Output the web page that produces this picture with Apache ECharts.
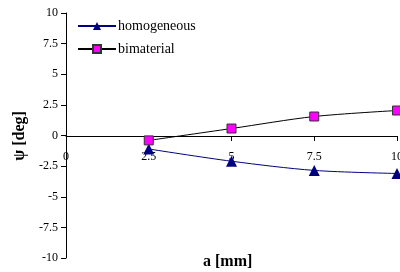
<!DOCTYPE html>
<html>
<head>
<meta charset="utf-8">
<script src="https://cdn.jsdelivr.net/npm/echarts@6/dist/echarts.min.js"></script>
<style>
  html, body { margin: 0; padding: 0; background: #fff; }
  #chart { width: 400px; height: 272px; }
</style>
</head>
<body>
<div id="chart"></div>
<script>
// 数据
const aValues = [2.5, 5, 7.5, 10];
const homogeneous = [-1.1, -2.1, -2.85, -3.1];
const bimaterial = [-0.4, 0.57, 1.55, 2.04];
const seriesNames = ['homogeneous', 'bimaterial'];

(function () {
    let myChart = echarts.init(document.getElementById('chart'));
    const font = 'Liberation Serif, Times New Roman, serif';
    let option = {
        animation: false,
        grid: {
            left: 66,
            right: 3,
            top: 13,
            bottom: 14,
            containLabel: false,
            outerBoundsMode: 'none'
        },
        legend: {
            orient: 'vertical',
            left: 77,
            top: 19,
            padding: 0,
            itemWidth: 38,
            itemHeight: 10,
            itemGap: 9,
            data: seriesNames,
            textStyle: { color: '#000', fontFamily: font, fontSize: 14, padding: [0, 0, 0, -3] }
        },
        xAxis: {
            type: 'value',
            min: 0,
            max: 10,
            interval: 2.5,
            // x轴放在 y=0 的位置
            offset: -122,
            axisLine: { onZero: false, lineStyle: { color: '#000', width: 1 } },
            axisTick: { show: true, length: 5, inside: false, lineStyle: { color: '#000' } },
            axisLabel: { color: '#000', fontFamily: font, fontSize: 12, margin: 15 },
            splitLine: { show: false }
        },
        yAxis: {
            type: 'value',
            min: -10,
            max: 10,
            interval: 2.5,
            axisLine: { show: true, lineStyle: { color: '#000', width: 1 } },
            axisTick: { show: true, length: 5, lineStyle: { color: '#000' } },
            axisLabel: { color: '#000', fontFamily: font, fontSize: 12, margin: 8 },
            splitLine: { show: false }
        },
        graphic: [
            {
                type: 'text',
                left: 203,
                top: 254,
                style: { text: 'a [mm]', font: 'bold 16px ' + font, fill: '#000' }
            },
            {
                type: 'text',
                x: 20,
                y: 136,
                rotation: Math.PI / 2,
                style: {
                    text: 'ψ [deg]', font: 'bold 16px ' + font, fill: '#000',
                    align: 'center', verticalAlign: 'middle'
                }
            }
        ],
        series: [
            {
                name: seriesNames[0],
                type: 'line',
                smooth: 0.3,
                data: aValues.map((a, i) => [a, homogeneous[i]]),
                symbol: 'triangle',
                symbolSize: 11,
                lineStyle: { color: '#000080', width: 1 },
                itemStyle: { color: '#000080' }
            },
            {
                name: seriesNames[1],
                type: 'line',
                smooth: 0.3,
                data: aValues.map((a, i) => [a, bimaterial[i]]),
                symbol: 'rect',
                symbolSize: 9,
                lineStyle: { color: '#000', width: 1 },
                itemStyle: { color: '#ff00ff', borderColor: '#333', borderWidth: 1 }
            }
        ]
    };
    myChart.setOption(option);
})();
</script>
</body>
</html>
